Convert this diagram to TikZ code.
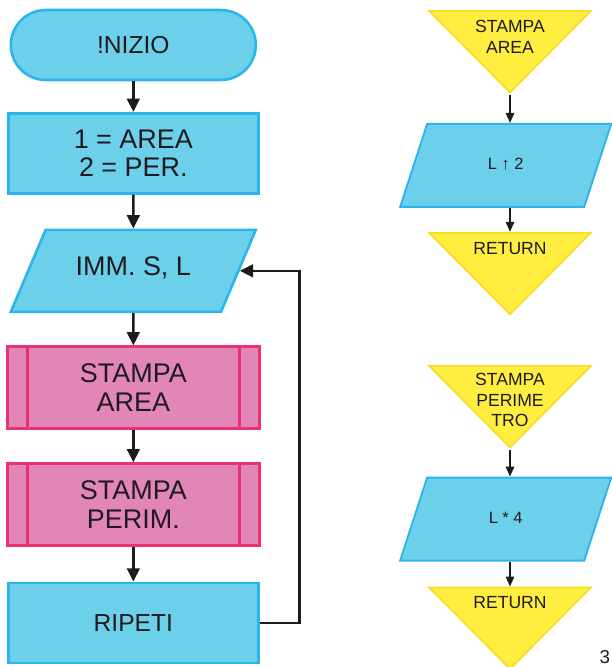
\documentclass[tikz,border=0pt]{standalone}
\usepackage{fontspec}
\setmainfont{Liberation Sans}
\usetikzlibrary{positioning,shapes.geometric,arrows.meta}
\definecolor{cyanfill}{RGB}{108,208,234}
\definecolor{cyanline}{RGB}{44,180,236}
\definecolor{pinkfill}{RGB}{226,134,184}
\definecolor{pinkline}{RGB}{236,48,116}
\definecolor{yelfill}{RGB}{255,238,64}
\definecolor{yelline}{RGB}{248,220,36}
\definecolor{inkcol}{RGB}{30,26,30}

\begin{document}
\begin{tikzpicture}[
  font=\fontsize{21}{25}\selectfont,
  >={Triangle[length=4mm,width=3.8mm]},
  node distance=0.97cm and 1.0cm,
  big/.style={font=\fontsize{23}{24.5}\selectfont},
  term/.style={rectangle, rounded corners=1.05cm, draw=cyanline, fill=cyanfill,
    line width=2.2pt, minimum width=7.35cm, minimum height=2.1cm, text=inkcol},
  proc/.style={rectangle, draw=cyanline, fill=cyanfill, line width=2.2pt,
    minimum width=7.5cm, minimum height=2.4cm, align=center, text=inkcol},
  io/.style={trapezium, trapezium left angle=67, trapezium right angle=113,
    draw=cyanline, fill=cyanfill, line width=2.2pt, trapezium stretches body,
    text height=0.5cm, text depth=0.2cm, inner ysep=0.88cm,
    minimum width=7.35cm, align=center, text=inkcol},
  sub/.style={rectangle, draw=pinkline, fill=pinkfill, line width=2.2pt,
    minimum width=7.56cm, minimum height=2.46cm, align=center, text=inkcol,
    path picture={
      \draw[pinkline, line width=2pt]
        ([xshift=0.6cm]path picture bounding box.north west) --
        ([xshift=0.6cm]path picture bounding box.south west)
        ([xshift=-0.6cm]path picture bounding box.north east) --
        ([xshift=-0.6cm]path picture bounding box.south east);}},
  ret/.style={isosceles triangle, shape border rotate=-90,
    isosceles triangle stretches, draw=yelline, fill=yelfill, line width=1.4pt,
    minimum width=4.86cm, minimum height=2.45cm, inner sep=0pt},
  rettext/.style={anchor=north, yshift=-0.3cm, align=center, inner sep=0pt,
    text=inkcol, font=\fontsize{15}{17.5}\selectfont},
  io2/.style={io, trapezium left angle=72, trapezium right angle=108,
    text height=0.35cm, text depth=0.1cm, inner ysep=1.02cm,
    minimum width=6.33cm, line width=1.6pt, font=\fontsize{14}{16}\selectfont},
  ar/.style={->, line width=2.2pt, draw=inkcol},
  ars/.style={->, line width=1.6pt, draw=inkcol,
    >={Triangle[length=3mm,width=2.5mm]}}
]
\useasboundingbox (0,0) rectangle (18.33,-20.01);
% main program
\node[term] (start) at (4.0,-1.35) {!NIZIO};
\node[proc, big, below=0.92cm of start] (menu) {1 = AREA\\2 = PER.};
\node[io, big, below=1.02cm of menu] (input) {IMM. S, L};
\node[sub, big, below=of input] (area) {STAMPA\\AREA};
\node[sub, big, below=of area] (perim) {STAMPA\\PERIM.};
\node[proc, below=1.04cm of perim] (rep) {RIPETI};
\draw[ar] (start) -- (menu);
\draw[ar] (menu) -- (input);
\draw[ar] (input) -- (area);
\draw[ar] (area) -- (perim);
\draw[ar] (perim) -- (rep);
% loop back
\draw[ar] (rep.east) -- ++(1.2,0) |- (input.east);
% subroutine area
\node[ret, anchor=north, label={[rettext]north:{STAMPA\\AREA}}] (subA)
  at (15.3,-0.3) {};
\node[io2, below=0.85cm of subA.apex, xshift=-0.13cm] (sq) {L ↑ 2};
\node[ret, below=0.72cm of sq, xshift=0.13cm, label={[rettext]north:RETURN}] (retA) {};
\draw[ars] (subA.apex) -- (subA.apex |- sq.north);
\draw[ars] (retA.north |- sq.south) -- (retA);
% subroutine perimeter
\node[ret, anchor=north, label={[rettext, yshift=0.05cm]north:{STAMPA\\PERIME\\TRO}}]
  (subP) at (15.3,-10.95) {};
\node[io2, below=0.81cm of subP.apex, xshift=-0.13cm] (mul) {L * 4};
\node[ret, below=0.75cm of mul, xshift=0.13cm, label={[rettext]north:RETURN}] (retP) {};
\draw[ars] (subP.apex) -- (subP.apex |- mul.north);
\draw[ars] (retP.north |- mul.south) -- (retP);
% page number
\node[anchor=west, inner sep=0, font=\fontsize{16}{18}\selectfont, text=inkcol]
  (pnum) at (17.98,-19.72) {3};
\end{tikzpicture}
\end{document}
